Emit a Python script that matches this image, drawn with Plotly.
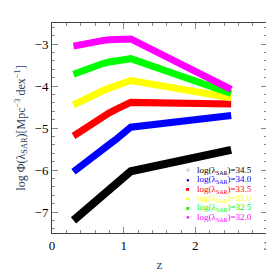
import plotly.graph_objects as go

z = [0.3, 0.4, 0.5, 0.6, 0.7, 0.8, 0.9, 1.0, 1.1, 2.5]
labels = ["34.5", "34.0", "33.5", "33.0", "32.5", "32.0"]
colors = ["#000000", "#0000ff", "#ff0000", "#ffff00", "#00ff00", "#ff00ff"]
symbols = ["○", "●", "■", "▲", "■", "●"]
phi_345 = [-7.20, -7.05, -6.90, -6.75, -6.61, -6.46, -6.32, -6.17, -6.03, -5.52]
phi_340 = [-6.04, -5.90, -5.77, -5.64, -5.52, -5.39, -5.26, -5.12, -4.98, -4.70]
phi_335 = [-5.19, -5.07, -4.95, -4.84, -4.74, -4.64, -4.55, -4.47, -4.39, -4.43]
phi_330 = [-4.45, -4.36, -4.27, -4.19, -4.12, -4.05, -3.99, -3.93, -3.87, -4.28]
phi_325 = [-3.72, -3.65, -3.58, -3.52, -3.47, -3.43, -3.40, -3.37, -3.35, -4.18]
phi_320 = [-3.05, -3.01, -2.97, -2.94, -2.92, -2.90, -2.89, -2.88, -2.88, -4.08]
series = [phi_345, phi_340, phi_335, phi_330, phi_325, phi_320]
widths = [8, 7, 7, 7, 7, 7]

fig = go.Figure()
for vals, col, w in zip(series, colors, widths):
    fig.add_trace(go.Scatter(x=z, y=vals, mode="lines",
                             line=dict(color=col, width=w),
                             showlegend=False, hoverinfo="skip"))

font_family = "Liberation Serif, DejaVu Serif, serif"
leg_x_sym = 1.90
leg_x_txt = 1.99
leg_y0 = -6.01
leg_dy = -0.222
for i, (lab, col, sym) in enumerate(zip(labels, colors, symbols)):
    y = leg_y0 + i * leg_dy
    fig.add_annotation(x=leg_x_sym, y=y, xref="x", yref="y", text=sym,
                       showarrow=False, xanchor="center", yanchor="middle",
                       font=dict(size=6, color=col, family=font_family))
    fig.add_annotation(x=leg_x_txt, y=y, xref="x", yref="y",
                       text=f"log(λ<sub><span style='font-size:6px'>SAR</span></sub>)={lab}",
                       showarrow=False, xanchor="left", yanchor="middle",
                       font=dict(size=9, color=col, family=font_family))

axis_common = dict(
    showgrid=False, zeroline=False, showline=True, linecolor="#444",
    linewidth=1, mirror="allticks", ticks="inside", ticklen=6,
    tickcolor="#888", tickwidth=1,
    tickfont=dict(size=13, color="#000", family=font_family),
    minor=dict(ticks="inside", ticklen=3, tickcolor="#888", dtick=0.2),
)

fig.update_xaxes(range=[0, 3], dtick=1, tick0=0,
                 title=dict(text="z", font=dict(size=13, family=font_family), standoff=8),
                 **axis_common)
fig.update_yaxes(range=[-7.5, -2.5], dtick=1, tick0=-3,
                 title=dict(text="log Φ(λ<sub>SAR</sub>)[Mpc<sup>−3</sup> dex<sup>−1</sup>]",
                            font=dict(size=12, family=font_family), standoff=6),
                 **axis_common)

fig.update_layout(width=274, height=274,
                  margin=dict(l=38, r=15, t=15, b=38),
                  plot_bgcolor="white", paper_bgcolor="white",
                  showlegend=False)

fig.write_html("out.html")
